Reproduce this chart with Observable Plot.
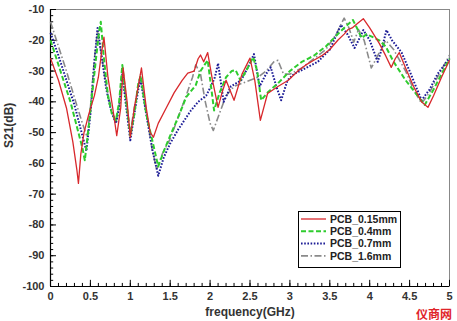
<!DOCTYPE html>
<html>
<head>
<meta charset="utf-8">
<script src="https://cdn.jsdelivr.net/npm/d3@7"></script>
<script src="https://cdn.jsdelivr.net/npm/@observablehq/plot@0.6"></script>
<style>
  body { margin: 0; background: #fff; }
  #chart { position: relative; width: 457px; height: 321px; }
</style>
</head>
<body>
<div id="chart"></div>
<script>
// ---- data ----
const seriesNames = ["PCB_0.15mm", "PCB_0.4mm", "PCB_0.7mm", "PCB_1.6mm"];

const freq015 = [0, 0.1, 0.2, 0.28, 0.33, 0.35, 0.38, 0.42, 0.48, 0.55, 0.6, 0.64, 0.67, 0.72, 0.78, 0.83, 0.88, 0.91, 0.96, 1.0, 1.05, 1.1, 1.14, 1.2, 1.25, 1.29, 1.35, 1.45, 1.55, 1.65, 1.72, 1.8, 1.85, 1.88, 1.92, 1.97, 2.03, 2.1, 2.15, 2.2, 2.3, 2.4, 2.5, 2.56, 2.63, 2.72, 2.85, 2.98, 3.1, 3.2, 3.3, 3.4, 3.5, 3.6, 3.68, 3.73, 3.78, 3.85, 3.92, 4.0, 4.12, 4.2, 4.27, 4.32, 4.37, 4.45, 4.55, 4.65, 4.73, 4.8, 4.9, 5.0];
const db015 = [-25.8, -33, -42, -53, -62, -66.5, -57, -50, -44, -38, -32, -24, -19, -32, -42, -51, -42, -29, -40, -51.5, -42, -35, -29, -42, -50, -51.5, -47, -42, -37, -33, -30.7, -30, -26, -24.8, -27, -24, -33, -41.8, -37, -33, -39.5, -31, -25.8, -33, -46, -37.3, -35, -33, -30, -28, -26.5, -25, -23, -20, -18, -16.5, -16, -14.5, -13, -16, -21, -25, -28.8, -26, -24, -29, -35, -40, -41.8, -38, -32, -26.5];

const freq04 = [0, 0.05, 0.15, 0.25, 0.33, 0.4, 0.43, 0.47, 0.52, 0.57, 0.61, 0.63, 0.67, 0.72, 0.77, 0.82, 0.86, 0.9, 0.95, 1.0, 1.05, 1.1, 1.13, 1.2, 1.28, 1.35, 1.42, 1.5, 1.6, 1.7, 1.82, 1.88, 1.93, 1.97, 2.05, 2.12, 2.2, 2.27, 2.32, 2.38, 2.45, 2.54, 2.59, 2.64, 2.72, 2.85, 3.0, 3.15, 3.3, 3.45, 3.6, 3.7, 3.79, 3.84, 3.9, 3.96, 4.04, 4.12, 4.2, 4.3, 4.45, 4.6, 4.69, 4.8, 4.9, 5.0];
const db04 = [-20, -24, -32, -40, -48, -55, -59, -50, -38, -26, -17, -14, -26, -38, -44, -46, -40, -28, -40, -51, -44, -34, -31.5, -44, -53, -61, -56, -51, -45, -38.5, -34.6, -30, -28, -26.5, -42.8, -37, -32, -30, -29.7, -33, -30, -25.5, -30, -39.5, -37, -34, -30, -27, -25, -22, -18, -15.5, -13.4, -16, -19.3, -18, -19, -20, -22, -27, -33, -38, -41, -36, -31, -26];

const freq07 = [0, 0.1, 0.2, 0.3, 0.38, 0.45, 0.5, 0.55, 0.59, 0.64, 0.7, 0.76, 0.82, 0.86, 0.9, 0.95, 1.0, 1.05, 1.1, 1.13, 1.2, 1.28, 1.35, 1.42, 1.5, 1.6, 1.76, 1.85, 1.95, 2.01, 2.06, 2.1, 2.17, 2.26, 2.39, 2.47, 2.55, 2.62, 2.7, 2.76, 2.83, 2.89, 2.97, 3.05, 3.2, 3.35, 3.5, 3.64, 3.72, 3.81, 3.86, 3.92, 4.0, 4.1, 4.15, 4.21, 4.28, 4.4, 4.5, 4.65, 4.75, 4.85, 5.0];
const db07 = [-17.6, -25, -33, -41, -49, -56, -44, -27, -16, -25, -36, -43, -47, -42, -31, -42, -52.5, -44, -36, -33, -44, -56, -64, -58, -53.5, -49, -42.8, -40, -38, -35, -32, -27.5, -40, -35, -33, -29, -24.5, -35, -31, -28.8, -35, -39.5, -33, -31, -29, -27, -23, -15, -18, -22.5, -20, -16.7, -20, -27, -23, -16.7, -20, -24, -30, -39.5, -36, -31, -25.8];

const freq16 = [0, 0.1, 0.2, 0.31, 0.4, 0.46, 0.5, 0.55, 0.59, 0.64, 0.7, 0.76, 0.82, 0.86, 0.9, 0.95, 1.0, 1.05, 1.1, 1.13, 1.2, 1.27, 1.33, 1.4, 1.5, 1.6, 1.7, 1.78, 1.82, 1.88, 1.94, 2.0, 2.04, 2.1, 2.2, 2.3, 2.4, 2.5, 2.6, 2.7, 2.8, 2.85, 2.92, 3.0, 3.15, 3.3, 3.45, 3.58, 3.68, 3.74, 3.8, 3.86, 3.93, 4.02, 4.1, 4.2, 4.3, 4.45, 4.55, 4.65, 4.75, 4.85, 5.0];
const db16 = [-14, -22, -30, -39.5, -47, -51.5, -42, -26, -17, -25, -35, -42, -47, -41, -30, -40, -50, -42, -35, -31, -43, -55, -62, -57, -52, -45, -38, -32, -28, -31, -40, -47, -49.3, -45, -38, -35, -34, -33, -32, -30, -27, -26.5, -31, -31, -29, -26, -23, -18, -12.8, -16, -20.6, -16.5, -20, -29, -25, -20, -23, -30, -36, -40.5, -37, -32, -24.8];

const xMajorTicks = [0, 0.5, 1, 1.5, 2, 2.5, 3, 3.5, 4, 4.5, 5];
const xMinorTicks = d3.range(0, 51).map(i => i / 10);
const yMajorTicks = [-100, -90, -80, -70, -60, -50, -40, -30, -20, -10];
const yMinorTicks = d3.range(-100, -9, 2);

// ---- styles ----
const colors = ["#d8282c", "#2ecc2e", "#1c1c96", "#8a8a8a"];
const dashes = [null, "5,2.5", "1.6,1.6", "7,2.5,1.5,2.5"];
const widths = [1.3, 2, 2, 1.6];

const tables = [
  d3.zip(freq015, db015),
  d3.zip(freq04, db04),
  d3.zip(freq07, db07),
  d3.zip(freq16, db16)
].map(t => t.map(([f, v]) => ({f, v})));

const font = "Liberation Sans, Arial, sans-serif";

const lineMarks = tables.map((t, i) =>
  Plot.line(t, {x: "f", y: "v", stroke: colors[i], strokeWidth: widths[i],
    strokeDasharray: dashes[i], strokeLinecap: "butt", strokeLinejoin: "round", curve: "linear"})
);

const plot = Plot.plot({
  width: 457,
  height: 321,
  marginLeft: 50,
  marginRight: 8,
  marginTop: 9,
  marginBottom: 35,
  style: {fontFamily: font, background: "#fff"},
  x: {domain: [0, 5]},
  y: {domain: [-100, -10]},
  marks: [
    Plot.frame({stroke: "#888", strokeWidth: 1}),
    // inner ticks
    Plot.ruleX(xMinorTicks, {x: d => d, y1: -100, y2: -99, stroke: "#000"}),
    Plot.ruleX(xMajorTicks, {x: d => d, y1: -100, y2: -98, stroke: "#000"}),
    Plot.ruleY(yMinorTicks, {y: d => d, x1: 0, x2: 0.04, stroke: "#000"}),
    Plot.ruleY(yMajorTicks, {y: d => d, x1: 0, x2: 0.075, stroke: "#000"}),
    Plot.ruleX([0], {stroke: "#000", strokeWidth: 1.2}),
    Plot.ruleY([-100], {stroke: "#000", strokeWidth: 1.2}),
    ...lineMarks.slice().reverse(),
    Plot.axisX({ticks: xMajorTicks, tickSize: 0, tickPadding: 6, tickFormat: d => String(d),
      fontSize: 11, fontWeight: "bold", fill: "#333", label: null}),
    Plot.axisY({ticks: yMajorTicks, tickSize: 0, tickPadding: 6, tickFormat: d => String(d),
      fontSize: 11, fontWeight: "bold", fill: "#333", label: null}),
    Plot.text(["S21(dB)"], {frameAnchor: "left", dx: -41, rotate: -90, fontSize: 12,
      fontWeight: "bold", fill: "#333"}),
    Plot.text(["frequency(GHz)"], {frameAnchor: "bottom", dy: 29, fontSize: 12,
      fontWeight: "bold", fill: "#333"})
  ]
});

document.getElementById("chart").appendChild(plot);

// ---- legend (inside plot area) ----
const svg = d3.select(plot);
const lg = svg.append("g").attr("font-family", font).attr("text-anchor", "start");
lg.append("rect").attr("x", 298.5).attr("y", 211.5).attr("width", 102).attr("height", 56)
  .attr("fill", "#fff").attr("stroke", "#000").attr("stroke-width", 1);
seriesNames.forEach((name, i) => {
  const y = 219 + i * 12.3;
  lg.append("line").attr("x1", 301).attr("x2", 326).attr("y1", y).attr("y2", y)
    .attr("stroke", colors[i]).attr("stroke-width", widths[i])
    .attr("stroke-dasharray", dashes[i]);
  lg.append("text").attr("x", 330).attr("y", y).attr("dy", "0.35em")
    .attr("text-anchor", "start")
    .attr("font-size", 10.5).attr("font-weight", "bold").attr("fill", "#222").text(name);
});

// watermark
svg.append("text").attr("x", 434).attr("y", 319).attr("text-anchor", "middle")
  .attr("font-family", "Noto Sans CJK SC").attr("font-weight", "bold").attr("font-size", 12)
  .attr("fill", "#e0242a").text("仪商网");
</script>
</body>
</html>
